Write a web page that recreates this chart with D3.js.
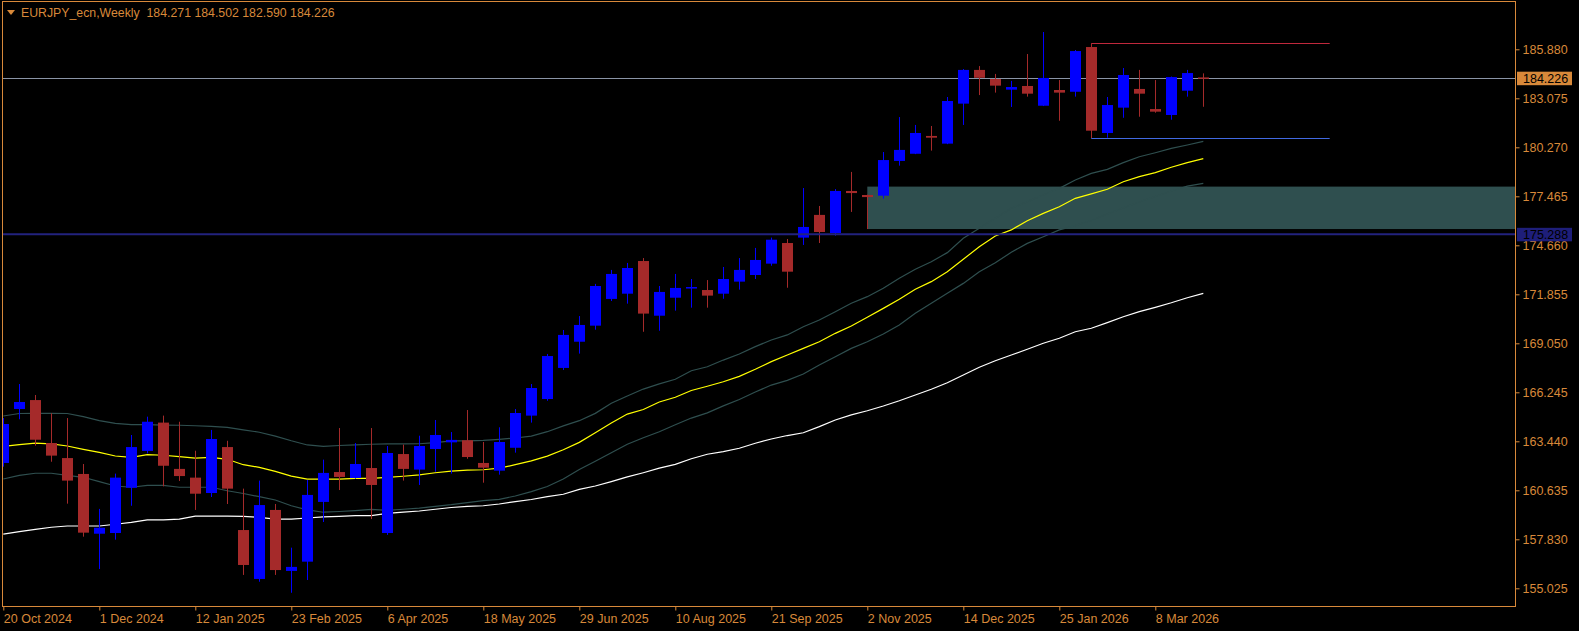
<!DOCTYPE html>
<html>
<head>
<meta charset="utf-8">
<script src="https://cdn.jsdelivr.net/npm/d3@7"></script>
<style>
  html, body { margin: 0; padding: 0; background: #000; }
  svg { display: block; }
  text { font-family: "Liberation Sans", Arial, sans-serif; }
</style>
</head>
<body>
<svg id="chart" width="1579" height="631"></svg>
<script>
// ---------------- DATA ----------------
const symbolTitle = "EURJPY_ecn,Weekly";
const startDate = "2024-10-20"; // first weekly bar
const tickLabels = ["20 Oct 2024","1 Dec 2024","12 Jan 2025","23 Feb 2025","6 Apr 2025","18 May 2025",
  "29 Jun 2025","10 Aug 2025","21 Sep 2025","2 Nov 2025","14 Dec 2025","25 Jan 2026","8 Mar 2026"];
const priceTicks = [185.880,183.075,180.270,177.465,174.660,171.855,169.050,166.245,163.440,160.635,157.830,155.025];

const openV = [162.20,165.29,165.80,163.34,162.48,161.57,158.15,158.19,160.78,162.89,
  164.51,161.86,161.36,160.48,163.11,158.36,155.56,159.51,156.02,156.55,
  159.97,161.68,161.34,161.91,158.19,162.71,161.82,163.00,163.38,163.50,
  162.20,161.76,163.07,164.91,165.86,167.64,169.14,170.06,171.59,171.89,
  173.76,170.63,171.66,172.23,172.10,171.89,172.58,172.96,173.61,174.79,
  175.10,176.40,175.36,177.77,177.54,177.50,179.49,179.90,180.92,180.48,
  182.77,184.70,184.18,183.57,183.78,182.65,183.55,183.45,186.01,181.09,
  182.54,183.61,182.46,182.12,183.51,184.271];
const highV = [164.77,166.72,166.09,165.04,164.77,162.14,159.57,161.59,163.80,164.85,
  164.91,164.56,162.90,164.09,163.47,160.73,161.19,159.85,157.35,161.23,
  162.39,164.20,163.34,164.20,163.17,163.25,163.76,164.66,163.97,165.23,
  163.40,164.24,165.29,166.72,168.44,169.81,170.61,172.45,173.25,173.65,
  173.93,172.33,173.02,172.73,172.67,173.42,173.93,174.51,175.10,175.02,
  177.94,176.91,177.88,178.86,177.56,180.00,182.00,181.55,181.49,183.15,
  184.75,184.92,184.47,184.07,185.61,186.87,184.12,185.84,186.22,183.15,
  184.81,184.70,184.12,184.32,184.70,184.502];
const lowV = [161.99,164.70,163.19,162.27,159.87,157.98,156.13,157.81,159.75,162.75,
  160.86,161.17,159.51,160.25,159.85,155.79,155.40,155.79,154.77,155.50,
  158.82,160.65,161.30,158.99,158.08,161.19,160.94,161.70,161.59,162.44,
  161.07,161.53,162.79,164.51,165.76,167.52,168.46,169.83,171.47,171.32,
  169.71,169.77,170.92,171.09,171.09,171.60,172.12,172.73,173.49,172.23,
  174.68,174.79,175.21,176.57,175.59,177.33,179.22,179.88,180.08,180.45,
  181.55,183.26,183.40,182.58,183.17,182.63,181.79,183.17,180.79,180.82,
  181.96,182.02,182.25,181.85,183.17,182.590];
const closeV = [164.43,165.69,163.53,162.62,161.19,158.21,158.49,161.36,163.11,164.56,
  162.04,161.45,160.44,163.57,160.73,156.36,159.79,156.07,156.25,160.37,
  161.63,161.40,162.14,160.94,162.77,161.86,163.17,163.80,163.52,162.54,
  161.93,163.40,165.06,166.49,168.32,169.53,170.10,172.33,173.02,173.36,
  170.75,171.99,172.22,172.27,171.78,172.73,173.25,173.82,174.98,173.15,
  175.71,175.42,177.77,177.65,177.42,179.54,180.12,181.09,180.82,182.92,
  184.70,184.25,183.80,183.72,183.34,184.24,183.40,185.78,181.22,182.69,
  184.41,183.34,182.31,184.29,184.52,184.226];

// Moving average (yellow) and bands (dark slate) and slow MA (white)
const maMid = [163.15,163.25,163.34,163.29,163.17,162.98,162.81,162.60,162.52,162.68,
  162.64,162.56,162.48,162.52,162.41,162.10,161.95,161.72,161.45,161.28,
  161.28,161.28,161.32,161.32,161.38,161.44,161.52,161.64,161.73,161.79,
  161.81,161.90,162.10,162.32,162.59,162.96,163.38,163.93,164.49,165.00,
  165.26,165.69,165.96,166.35,166.59,166.85,167.16,167.56,168.00,168.38,
  168.76,169.14,169.62,170.04,170.54,171.05,171.57,172.14,172.58,173.15,
  173.86,174.58,175.19,175.54,176.07,176.49,176.87,177.35,177.60,177.87,
  178.30,178.59,178.82,179.13,179.39,179.62];
const bandUpper = [164.89,165.03,165.04,165.04,165.03,164.85,164.62,164.47,164.40,164.39,
  164.37,164.36,164.33,164.29,164.24,164.09,163.96,163.74,163.47,163.23,
  163.15,163.20,163.23,163.27,163.29,163.29,163.30,163.36,163.46,163.47,
  163.49,163.55,163.63,163.74,163.99,164.32,164.62,165.04,165.62,166.03,
  166.43,166.73,166.99,167.48,167.71,168.09,168.44,168.86,169.24,169.53,
  170.00,170.38,170.86,171.34,171.72,172.20,172.77,173.29,173.72,174.24,
  175.06,175.63,176.21,176.78,177.16,177.54,177.92,178.40,178.78,179.01,
  179.39,179.73,179.96,180.21,180.40,180.61];
const bandLower = [161.28,161.49,161.61,161.61,161.49,161.38,161.13,160.88,160.81,160.92,
  160.92,160.81,160.81,160.81,160.61,160.45,160.27,160.08,159.75,159.51,
  159.38,159.42,159.47,159.54,159.49,159.55,159.62,159.72,159.81,159.93,
  160.04,160.12,160.31,160.56,160.85,161.28,161.83,162.30,162.78,163.27,
  163.64,163.99,164.39,164.77,165.07,165.47,165.83,166.26,166.66,166.93,
  167.29,167.81,168.28,168.76,169.14,169.58,170.10,170.77,171.34,171.91,
  172.48,173.15,173.66,174.26,174.77,175.15,175.54,175.79,176.08,176.45,
  176.80,177.14,177.45,177.77,178.05,178.21];
const maSlow = [158.13,158.27,158.40,158.52,158.59,158.59,158.59,158.69,158.80,158.94,
  158.94,158.99,159.16,159.16,159.16,159.14,159.09,158.98,158.98,159.05,
  159.11,159.14,159.18,159.18,159.31,159.38,159.45,159.55,159.65,159.71,
  159.75,159.85,159.99,160.11,160.27,160.41,160.69,160.88,161.13,161.40,
  161.64,161.90,162.12,162.44,162.70,162.85,163.04,163.33,163.57,163.77,
  163.93,164.28,164.66,164.95,165.19,165.46,165.76,166.09,166.42,166.79,
  167.24,167.68,168.05,168.38,168.71,169.05,169.34,169.71,169.91,170.23,
  170.57,170.86,171.11,171.37,171.66,171.91];

// Objects on chart
const bidPrice = 184.226;
const levelLine = 175.288;
const zoneTop = 178.02, zoneBottom = 175.59, zoneStartBar = 54;
const rangeHigh = 186.22, rangeLow = 180.79, rangeStartBar = 68, rangeEndBar = 82.9;

// ---------------- LAYOUT ----------------
const W = 1579, H = 631;
const plot = { left: 2, top: 1, right: 1515, bottom: 606.5 };
const orange = "#d8893a";
const bull = "#0000ff", bear = "#a52a2a";
const slate = "#2f4f4f";

const svg = d3.select("#chart");
svg.append("rect").attr("width", W).attr("height", H).attr("fill", "#000");

const parse = d3.utcParse("%Y-%m-%d");
const t0 = parse(startDate);
const n = openV.length;
const barDates = d3.range(n).map(i => d3.utcDay.offset(t0, 7 * i));
const bars = barDates.map((d, i) => ({ date: d, o: openV[i], h: highV[i], l: lowV[i], c: closeV[i] }));

const x = d3.scaleUtc()
  .domain([t0, d3.utcDay.offset(t0, 7 * 75)])
  .range([3.3, 3.3 + 75 * 16]);
const xAt = b => x(d3.utcHour.offset(t0, Math.round(7 * 24 * b)));  // fractional bar index
const y = d3.scaleLinear().domain([155.025, 185.88]).range([588.3, 49.3]);

svg.append("defs").append("clipPath").attr("id", "plotclip")
  .append("rect").attr("x", plot.left).attr("y", plot.top)
  .attr("width", plot.right - plot.left).attr("height", plot.bottom - plot.top);

const g = svg.append("g").attr("clip-path", "url(#plotclip)");

// zone (background)
g.append("rect")
  .attr("x", x(barDates[zoneStartBar]))
  .attr("y", y(zoneTop))
  .attr("width", plot.right - x(barDates[zoneStartBar]))
  .attr("height", y(zoneBottom) - y(zoneTop))
  .attr("fill", slate);

// bid line
g.append("line")
  .attr("x1", plot.left).attr("x2", plot.right)
  .attr("y1", Math.round(y(bidPrice)) + 0.5).attr("y2", Math.round(y(bidPrice)) + 0.5)
  .attr("stroke", "#8a94a6").attr("stroke-width", 1);

// indicator lines
const lineGen = arr => d3.line()
  .x((d, i) => x(barDates[i]))
  .y(d => y(d))(arr);
[[bandUpper, slate], [bandLower, slate], [maSlow, "#ffffff"], [maMid, "#ffff00"]].forEach(([arr, col]) => {
  g.append("path").attr("d", lineGen(arr)).attr("fill", "none")
    .attr("stroke", col).attr("stroke-width", 1.2);
});

// candles
const cg = g.append("g");
bars.forEach(b => {
  const cx = Math.round(x(b.date)) + 0.5;
  const col = b.c >= b.o ? bull : bear;
  cg.append("line").attr("x1", cx).attr("x2", cx)
    .attr("y1", y(b.h)).attr("y2", y(b.l)).attr("stroke", col).attr("stroke-width", 1);
  const top = y(Math.max(b.o, b.c)), bot = y(Math.min(b.o, b.c));
  cg.append("rect").attr("x", cx - 5.5).attr("width", 11)
    .attr("y", top).attr("height", Math.max(bot - top, 1.5))
    .attr("fill", col);
});

// level line
g.append("line")
  .attr("x1", plot.left).attr("x2", plot.right)
  .attr("y1", y(levelLine)).attr("y2", y(levelLine))
  .attr("stroke", "#22227e").attr("stroke-width", 2);

// range lines
g.append("line").attr("x1", xAt(rangeStartBar)).attr("x2", xAt(rangeEndBar))
  .attr("y1", Math.round(y(rangeHigh)) + 0.5).attr("y2", Math.round(y(rangeHigh)) + 0.5)
  .attr("stroke", "#c0283c").attr("stroke-width", 1);
g.append("line").attr("x1", xAt(rangeStartBar)).attr("x2", xAt(rangeEndBar))
  .attr("y1", Math.round(y(rangeLow)) + 0.5).attr("y2", Math.round(y(rangeLow)) + 0.5)
  .attr("stroke", "#4169e1").attr("stroke-width", 1);

// frame
svg.append("rect")
  .attr("x", plot.left + 0.5).attr("y", plot.top + 0.5)
  .attr("width", plot.right - plot.left).attr("height", plot.bottom - plot.top - 0.5)
  .attr("fill", "none").attr("stroke", orange).attr("stroke-width", 1);

// y axis
const yAxis = svg.append("g").attr("transform", `translate(${plot.right + 0.5},0)`)
  .call(d3.axisRight(y).tickValues(priceTicks).tickFormat(d3.format(".3f")).tickSize(4).tickPadding(3));
yAxis.select(".domain").remove();
yAxis.selectAll("line").attr("stroke", orange);
yAxis.selectAll("text").attr("fill", orange).attr("font-size", "12.5px")
  .attr("font-family", "Liberation Sans, Arial, sans-serif");

// x axis
const tickDates = tickLabels.map(s => d3.utcParse("%d %b %Y")(s));
const xAxis = svg.append("g").attr("transform", `translate(0,${plot.bottom})`)
  .call(d3.axisBottom(x).tickValues(tickDates).tickFormat(d3.utcFormat("%-d %b %Y")).tickSize(4));
xAxis.select(".domain").remove();
xAxis.selectAll("line").attr("stroke", orange);
xAxis.selectAll("text").attr("fill", orange).attr("font-size", "12.5px")
  .attr("text-anchor", "start").attr("y", 16).attr("dy", 0).attr("x", 0)
  .attr("font-family", "Liberation Sans, Arial, sans-serif");

// price labels on axis
function priceTag(val, fill, txtCol) {
  const yy = y(val);
  svg.append("rect").attr("x", plot.right + 2).attr("y", yy - 6.5)
    .attr("width", 55).attr("height", 13.5).attr("fill", fill);
  svg.append("text").attr("x", plot.right + 8).attr("y", yy + 4.5)
    .attr("fill", txtCol).attr("font-size", "12.5px").text(d3.format(".3f")(val));
}
priceTag(bidPrice, "#d8893a", "#000");
priceTag(levelLine, "#1e1e7a", "#000");

// title
svg.append("path").attr("d", "M7,10 L15,10 L11,15 Z").attr("fill", orange);
svg.append("text").attr("x", 21).attr("y", 16.5).attr("fill", orange)
  .attr("font-size", "12.3px").attr("xml:space", "preserve")
  .text(symbolTitle + "  " + [openV[n-1], highV[n-1], lowV[n-1], closeV[n-1]].map(d3.format(".3f")).join(" "));
</script>
</body>
</html>
